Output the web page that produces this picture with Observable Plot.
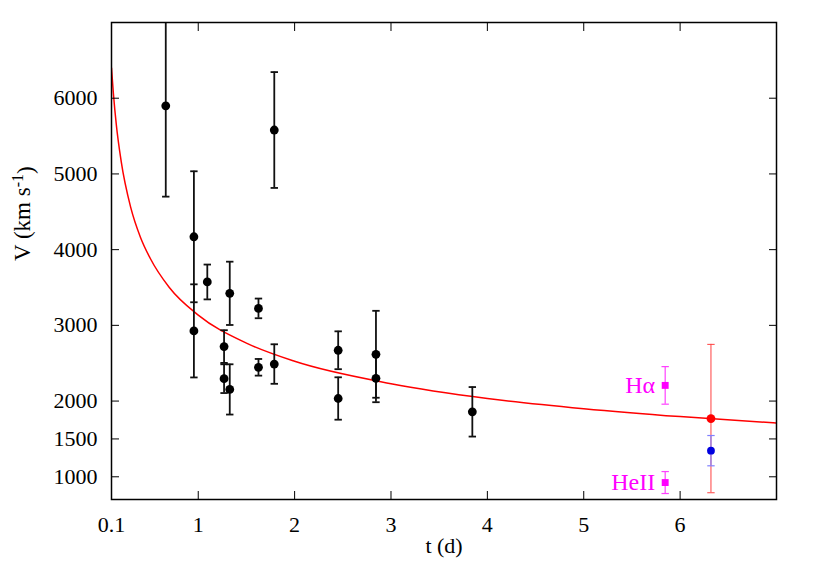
<!DOCTYPE html>
<html><head><meta charset="utf-8">
<script src="https://cdn.jsdelivr.net/npm/d3@7"></script>
<script src="https://cdn.jsdelivr.net/npm/@observablehq/plot@0.6"></script>
<style>
body{margin:0;background:#fff}
svg text { font-family: "Liberation Serif", "Times New Roman", serif !important; }
</style>
</head><body><div id="chart"></div>
<script>
// Black points: time (d), velocity (km/s), symmetric error
const blackT   = [0.663, 1.789, 0.955, 0.955, 1.094, 1.327, 1.625, 1.268, 1.268, 1.327, 1.625, 1.789, 2.452, 2.452, 2.844, 2.844, 3.844];
const blackV   = [5900, 5580, 4170, 2927, 3573, 3423, 3224, 2720, 2296, 2154, 2446, 2489, 2671, 2034, 2618, 2300, 1858];
const blackErr = [1200, 765, 865, 615, 230, 418, 130, 216, 190, 332, 110, 261, 250, 280, 574, 315, 327];
// Red point
const redT = [6.32], redV = [1769], redErr = [980];
// Blue point
const blueT = [6.32], blueV = [1345], blueErr = [200];
// Magenta line measurements
const lineT = [5.845, 5.845], lineV = [2207, 924], lineErr = [248, 145];
const lineLabels = ["H\u03B1", "HeII"];
// Red fit curve
const fitT = [0.1, 0.12, 0.15, 0.2, 0.3, 0.4, 0.5, 0.7, 1, 1.5, 2, 3, 4, 5, 6, 7];
const fitV = [6400, 6055, 5650, 5170, 4555, 4165, 3890, 3500, 3135, 2765, 2525, 2230, 2035, 1900, 1795, 1710];
// Ticks
const xTicks = [0.1, 1, 2, 3, 4, 5, 6];
const yTicks = [1000, 1500, 2000, 3000, 4000, 5000, 6000];

const rows = (T, V, E) => T.map((t, i) => ({t, v: V[i], lo: V[i] - E[i], hi: V[i] + E[i]}));
const black = rows(blackT, blackV, blackErr);
const red = rows(redT, redV, redErr);
const blue = rows(blueT, blueV, blueErr);
const lines = rows(lineT, lineV, lineErr).map((d, i) => ({...d, label: lineLabels[i]}));
const fit = fitT.map((t, i) => ({t, v: fitV[i]}));

const cap = {draw(ctx, size) { const w = Math.sqrt(size / Math.PI); ctx.moveTo(-w, 0); ctx.lineTo(w, 0); }};

function errMarks(data, color, width, capR) {
  return [
    Plot.ruleX(data, {x: "t", y1: "lo", y2: "hi", stroke: color, strokeWidth: width, clip: true}),
    Plot.dot(data, {x: "t", y: "lo", symbol: cap, r: capR, stroke: color, strokeWidth: width, clip: true}),
    Plot.dot(data, {x: "t", y: "hi", symbol: cap, r: capR, stroke: color, strokeWidth: width, clip: true})
  ];
}

const chart = Plot.plot({
  width: 817, height: 572,
  marginLeft: 111, marginRight: 41, marginTop: 22, marginBottom: 73,
  style: {fontFamily: "'Liberation Serif', 'Times New Roman', serif", fontSize: "22px", color: "black", background: "white"},
  x: {type: "linear", domain: [0.1, 7]},
  y: {type: "linear", domain: [700, 7000]},
  marks: [
    Plot.line(fit, {x: "t", y: "v", stroke: "#ff0000", strokeWidth: 1.5, curve: "monotone-x", clip: true}),
    ...errMarks(black, "#111", 1.8, 3.7),
    Plot.dot(black, {x: "t", y: "v", r: 4.4, fill: "black"}),
    ...errMarks(red, "#ff4040", 1, 3.7),
    Plot.dot(red, {x: "t", y: "v", r: 4.4, fill: "#ff0000"}),
    ...errMarks(blue, "#8080ff", 1.2, 3.7),
    Plot.dot(blue, {x: "t", y: "v", r: 3.9, fill: "#0000e0"}),
    ...errMarks(lines, "#ff40ff", 1.2, 3.7),
    Plot.dot(lines, {x: "t", y: "v", symbol: "square", r: 3.9, fill: "#ff00ff"}),
    Plot.text(lines, {x: "t", y: "v", text: "label", textAnchor: "end", dx: -10, fill: "#ff00ff", fontSize: 24}),
    Plot.frame({stroke: "black", strokeWidth: 1.5}),
    // labels
    Plot.axisX({ticks: xTicks, tickSize: 0, tickPadding: 17, tickFormat: d => String(d), label: null, fontSize: 22}),
    Plot.axisY({ticks: yTicks, tickSize: 0, tickPadding: 14, tickFormat: d3.format("d"), label: null, fontSize: 22}),
    // inward ticks
    Plot.axisX({anchor: "bottom", ticks: xTicks.slice(1), tickSize: -8, tickFormat: () => "", label: null, strokeWidth: 1}),
    Plot.axisX({anchor: "top", ticks: xTicks.slice(1), tickSize: -8, tickFormat: () => "", label: null, strokeWidth: 1}),
    Plot.axisY({anchor: "left", ticks: yTicks, tickSize: -8, tickFormat: () => "", label: null, strokeWidth: 1}),
    Plot.axisY({anchor: "right", ticks: yTicks, tickSize: -8, tickFormat: () => "", label: null, strokeWidth: 1}),
    // axis titles
    Plot.text(["t (d)"], {text: d => d, frameAnchor: "bottom", dy: 53, fontSize: 22}),
    Plot.text(["V (km s-1)"], {text: d => d, frameAnchor: "left", rotate: -90, dx: -89, fontSize: 23})
  ]
});

document.getElementById("chart").appendChild(chart);

// superscript for the y label
chart.querySelectorAll("text").forEach(t => {
  if (t.textContent === "V (km s-1)") {
    t.textContent = "";
    const ns = "http://www.w3.org/2000/svg";
    const a = document.createElementNS(ns, "tspan"); a.textContent = "V (km s";
    const b = document.createElementNS(ns, "tspan"); b.textContent = "-1"; b.setAttribute("dy", "-0.45em"); b.setAttribute("font-size", "16");
    const c = document.createElementNS(ns, "tspan"); c.textContent = ")"; c.setAttribute("dy", "0.45em");
    t.appendChild(a); t.appendChild(b); t.appendChild(c);
  }
});
</script>
</body></html>
